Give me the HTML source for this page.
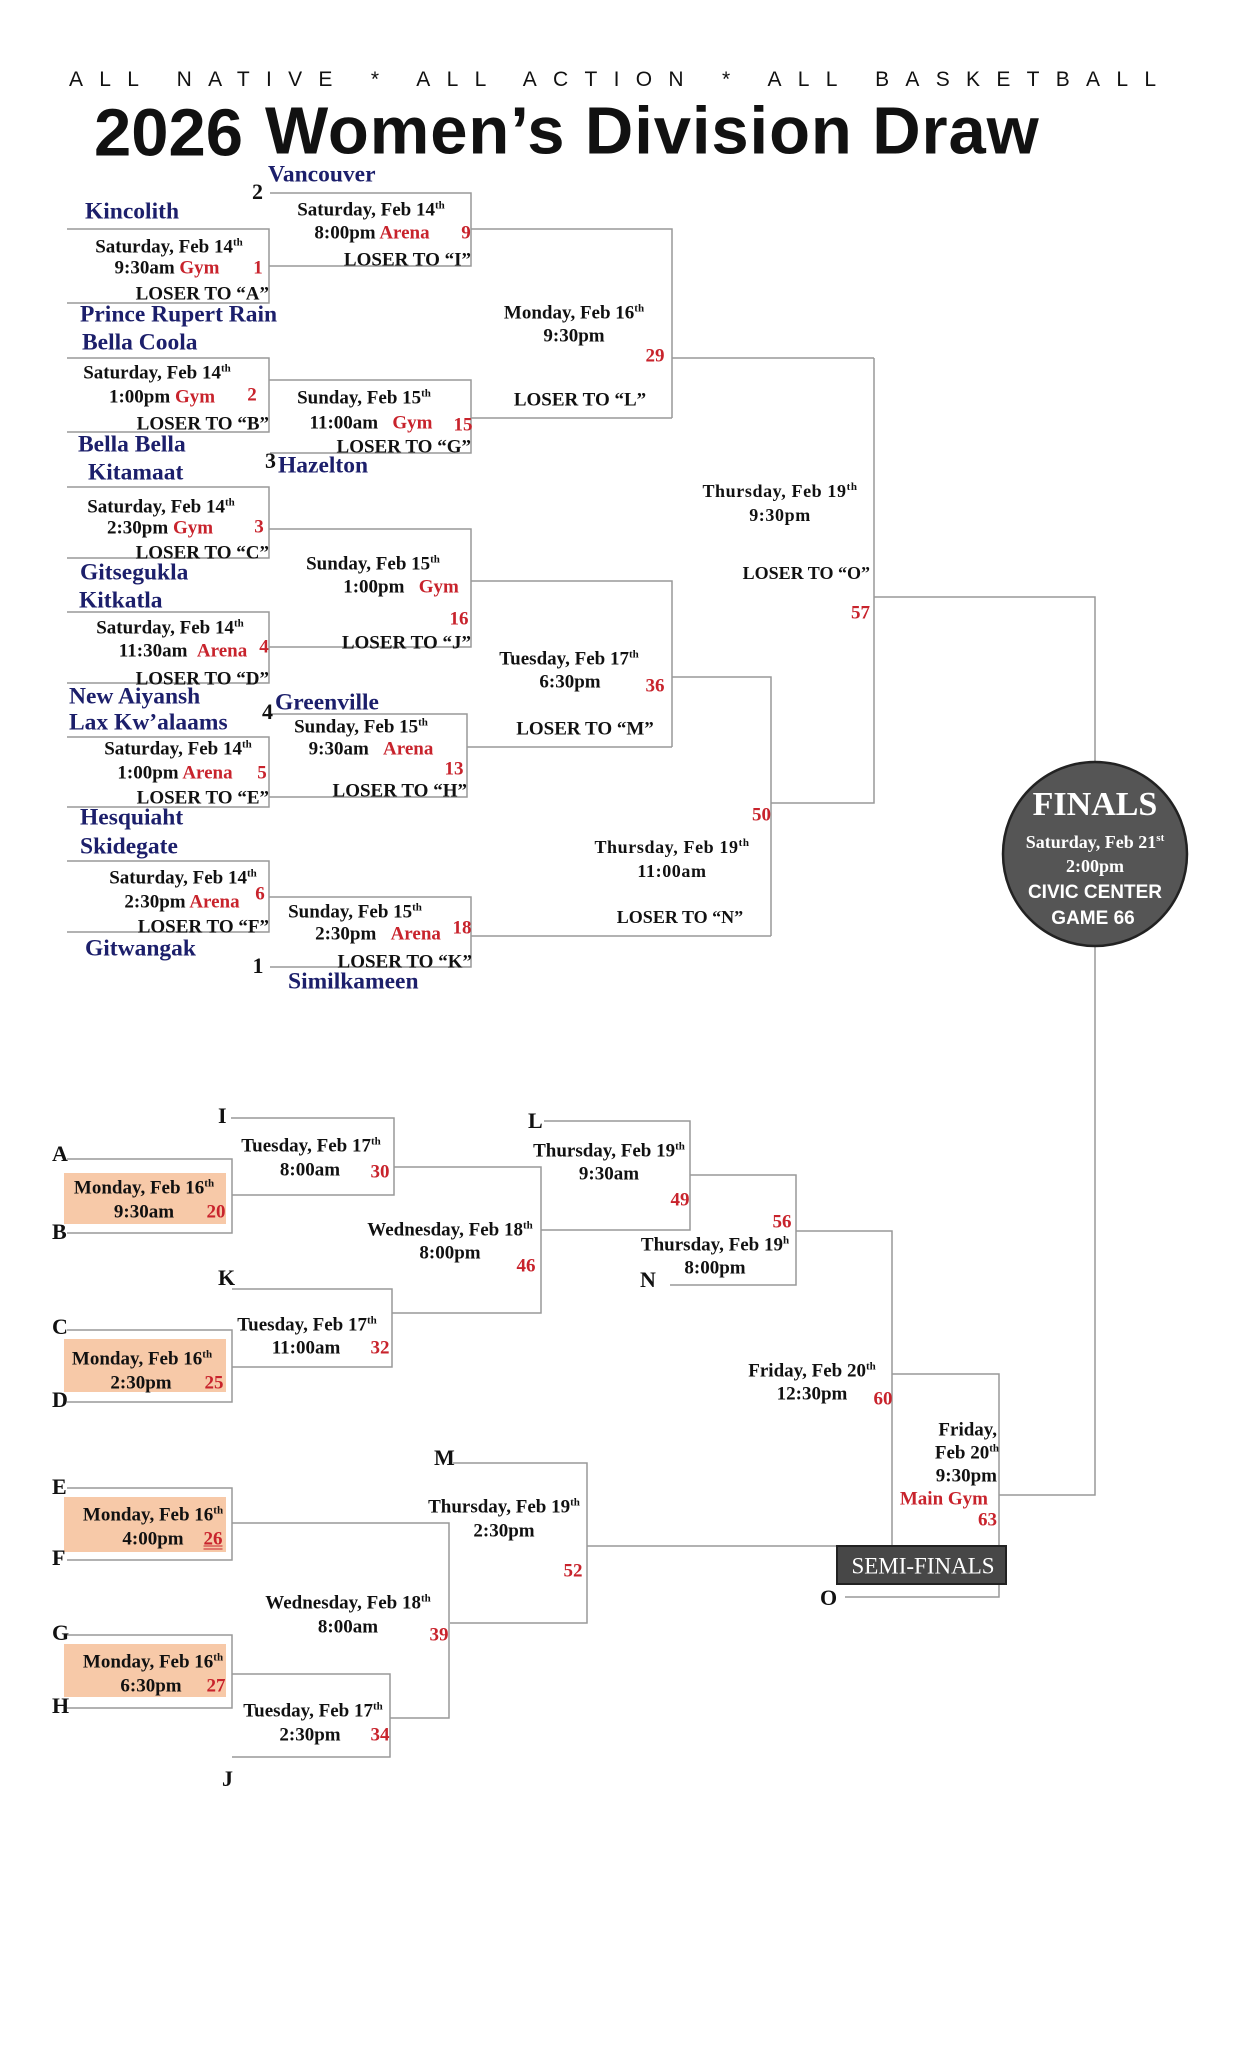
<!DOCTYPE html>
<html><head><meta charset="utf-8">
<style>
html,body{margin:0;padding:0;background:#fff}
#p{position:relative;width:1243px;height:2048px;overflow:hidden;background:#fff}
.t{position:absolute;white-space:nowrap;font:bold 19px "Liberation Serif",serif;line-height:1;transform:translate(-50%,-50%);color:#111}
.l{transform:translate(0,-50%)}
.r{transform:translate(-100%,-50%)}
.red{color:#c8232c}
.tm{color:#1c1f6b;font-size:23.5px}
.lb{font-size:22px}
sup{font-size:11px;vertical-align:7px;line-height:0}
.sh{position:absolute;background:#f7c9a8}
svg{position:absolute;left:0;top:0}
</style></head><body><div id="p">
<div class="sh" style="left:64px;top:1173px;width:162px;height:51px"></div>
<div class="sh" style="left:64px;top:1339px;width:162px;height:53px"></div>
<div class="sh" style="left:64px;top:1497px;width:162px;height:55px"></div>
<div class="sh" style="left:64px;top:1644px;width:162px;height:53px"></div>
<svg width="1243" height="2048" fill="none" stroke="#999" stroke-width="1.5">
<path d="M67,229H269V303H67M269,266H471V193H270M471,229H672V418M471,418H672M672,358H874"/>
<path d="M67,358H269V432H67M269,380H471V453H270"/>
<path d="M67,487H269V558H67M269,529H471V647H269M471,581H672V747M467,747H672M672,677H771V936M471,936H771M771,803H874V358M874,597H1095V762"/>
<path d="M67,612H269V683H67M269,714H467V797H269M67,737H269V807H67"/>
<path d="M67,861H269V932H67M269,897H471V967H270"/>
<path d="M1095,946V1495H999"/>
<path d="M231,1118H394V1195H232M67,1159H232V1233H67M394,1167H541V1313H392M541,1230H690V1121H544M232,1289H392V1367H232M67,1330H232V1402H67"/>
<path d="M690,1175H796V1285H670M796,1231H892V1546M892,1374H999V1597H845"/>
<path d="M453,1463H587V1623H450M587,1546H837M67,1488H232V1560H67M232,1523H449V1718H390M67,1635H232V1708H67M232,1674H390V1757H232"/>
<ellipse cx="1095" cy="854" rx="92" ry="92" fill="#555" stroke="#222" stroke-width="2.5"/>
<rect x="837" y="1546" width="169" height="38" fill="#474747" stroke="#222" stroke-width="2"/>
</svg>

<div class="t l" style="left:69px;top:80px;font:21px 'Liberation Sans',sans-serif;letter-spacing:16.3px">ALL NATIVE * ALL ACTION * ALL BASKETBALL</div>
<div class="t l" style="left:94px;top:133px;font:bold 67px 'Liberation Sans',sans-serif">2026</div>
<div class="t l" style="left:265px;top:131px;font:bold 67px 'Liberation Sans',sans-serif;letter-spacing:0.9px">Women’s Division Draw</div>

<div class="t l tm" style="left:268px;top:175px">Vancouver</div>
<div class="t l lb" style="left:252px;top:192px">2</div>
<div class="t l tm" style="left:85px;top:212px">Kincolith</div>
<div class="t" style="left:169px;top:247px">Saturday, Feb 14<sup>th</sup></div>
<div class="t" style="left:167px;top:268px">9:30am <span class="red">Gym</span></div>
<div class="t red" style="left:258px;top:268px">1</div>
<div class="t r" style="left:269px;top:294px">LOSER TO “A”</div>
<div class="t" style="left:371px;top:210px">Saturday, Feb 14<sup>th</sup></div>
<div class="t" style="left:372px;top:233px">8:00pm <span class="red">Arena</span></div>
<div class="t red" style="left:466px;top:233px">9</div>
<div class="t r" style="left:471px;top:260px">LOSER TO “I”</div>

<div class="t l tm" style="left:80px;top:315px">Prince Rupert Rain</div>
<div class="t l tm" style="left:82px;top:343px">Bella Coola</div>
<div class="t" style="left:157px;top:373px">Saturday, Feb 14<sup>th</sup></div>
<div class="t" style="left:162px;top:397px">1:00pm <span class="red">Gym</span></div>
<div class="t red" style="left:252px;top:395px">2</div>
<div class="t r" style="left:269px;top:424px">LOSER TO “B”</div>
<div class="t" style="left:364px;top:398px">Sunday, Feb 15<sup>th</sup></div>
<div class="t" style="left:371px;top:423px">11:00am &nbsp;&nbsp;<span class="red">Gym</span></div>
<div class="t red" style="left:463px;top:425px">15</div>
<div class="t r" style="left:471px;top:447px">LOSER TO “G”</div>
<div class="t" style="left:574px;top:313px">Monday, Feb 16<sup>th</sup></div>
<div class="t" style="left:574px;top:336px">9:30pm</div>
<div class="t red" style="left:655px;top:356px">29</div>
<div class="t" style="left:580px;top:400px">LOSER TO “L”</div>

<div class="t l tm" style="left:78px;top:445px">Bella Bella</div>
<div class="t l lb" style="left:265px;top:461px">3</div>
<div class="t l tm" style="left:278px;top:466px">Hazelton</div>
<div class="t l tm" style="left:88px;top:473px">Kitamaat</div>
<div class="t" style="left:161px;top:507px">Saturday, Feb 14<sup>th</sup></div>
<div class="t" style="left:160px;top:528px">2:30pm <span class="red">Gym</span></div>
<div class="t red" style="left:259px;top:527px">3</div>
<div class="t r" style="left:269px;top:553px">LOSER TO “C”</div>
<div class="t l tm" style="left:80px;top:573px">Gitsegukla</div>
<div class="t l tm" style="left:79px;top:601px">Kitkatla</div>
<div class="t" style="left:373px;top:564px">Sunday, Feb 15<sup>th</sup></div>
<div class="t" style="left:401px;top:587px">1:00pm &nbsp;&nbsp;<span class="red">Gym</span></div>
<div class="t red" style="left:459px;top:619px">16</div>
<div class="t r" style="left:471px;top:643px">LOSER TO “J”</div>
<div class="t" style="left:170px;top:628px">Saturday, Feb 14<sup>th</sup></div>
<div class="t" style="left:183px;top:651px">11:30am &nbsp;<span class="red">Arena</span></div>
<div class="t red" style="left:264px;top:647px">4</div>
<div class="t r" style="left:269px;top:679px">LOSER TO “D”</div>
<div class="t" style="left:569px;top:659px">Tuesday, Feb 17<sup>th</sup></div>
<div class="t" style="left:570px;top:682px">6:30pm</div>
<div class="t red" style="left:655px;top:686px">36</div>
<div class="t" style="left:585px;top:729px">LOSER TO “M”</div>

<div class="t l tm" style="left:69px;top:697px">New Aiyansh</div>
<div class="t l tm" style="left:69px;top:723px">Lax Kw’alaams</div>
<div class="t l lb" style="left:262px;top:712px">4</div>
<div class="t l tm" style="left:275px;top:703px">Greenville</div>
<div class="t" style="left:361px;top:727px">Sunday, Feb 15<sup>th</sup></div>
<div class="t" style="left:371px;top:749px">9:30am &nbsp;&nbsp;<span class="red">Arena</span></div>
<div class="t red" style="left:454px;top:769px">13</div>
<div class="t r" style="left:467px;top:791px">LOSER TO “H”</div>
<div class="t" style="left:178px;top:749px">Saturday, Feb 14<sup>th</sup></div>
<div class="t" style="left:175px;top:773px">1:00pm <span class="red">Arena</span></div>
<div class="t red" style="left:262px;top:773px">5</div>
<div class="t r" style="left:269px;top:798px">LOSER TO “E”</div>

<div class="t l tm" style="left:80px;top:818px">Hesquiaht</div>
<div class="t l tm" style="left:80px;top:847px">Skidegate</div>
<div class="t" style="left:183px;top:878px">Saturday, Feb 14<sup>th</sup></div>
<div class="t" style="left:182px;top:902px">2:30pm <span class="red">Arena</span></div>
<div class="t red" style="left:260px;top:894px">6</div>
<div class="t r" style="left:269px;top:927px">LOSER TO “F”</div>
<div class="t" style="left:355px;top:912px">Sunday, Feb 15<sup>th</sup></div>
<div class="t" style="left:378px;top:934px">2:30pm &nbsp;&nbsp;<span class="red">Arena</span></div>
<div class="t red" style="left:462px;top:928px">18</div>
<div class="t r" style="left:472px;top:962px">LOSER TO “K”</div>
<div class="t l tm" style="left:85px;top:949px">Gitwangak</div>
<div class="t lb" style="left:258px;top:966px">1</div>
<div class="t l tm" style="left:288px;top:982px">Similkameen</div>

<div class="t" style="left:780px;top:491px;font-size:18px;letter-spacing:.6px">Thursday, Feb 19<sup>th</sup></div>
<div class="t" style="left:780px;top:515px;font-size:18px;letter-spacing:.6px">9:30pm</div>
<div class="t r" style="left:870px;top:573px;font-size:18px">LOSER TO “O”</div>
<div class="t r red" style="left:870px;top:613px">57</div>
<div class="t r red" style="left:771px;top:815px">50</div>
<div class="t" style="left:672px;top:847px;font-size:18px;letter-spacing:.6px">Thursday, Feb 19<sup>th</sup></div>
<div class="t" style="left:672px;top:871px;font-size:18px;letter-spacing:.6px">11:00am</div>
<div class="t" style="left:680px;top:917px;font-size:18px">LOSER TO “N”</div>

<div class="t" style="left:1095px;top:805px;color:#fff;font-size:34px;font-weight:bold">FINALS</div>
<div class="t" style="left:1095px;top:842px;color:#fff;font-size:18px">Saturday, Feb 21<sup>st</sup></div>
<div class="t" style="left:1095px;top:866px;color:#fff;font-size:18px">2:00pm</div>
<div class="t" style="left:1095px;top:893px;color:#fff;font:bold 19px 'Liberation Sans',sans-serif">CIVIC CENTER</div>
<div class="t" style="left:1093px;top:919px;color:#fff;font:bold 19px 'Liberation Sans',sans-serif">GAME 66</div>

<div class="t l lb" style="left:218px;top:1116px">I</div>
<div class="t l lb" style="left:52px;top:1154px">A</div>
<div class="t l lb" style="left:52px;top:1232px">B</div>
<div class="t l lb" style="left:218px;top:1278px">K</div>
<div class="t l lb" style="left:52px;top:1327px">C</div>
<div class="t l lb" style="left:52px;top:1400px">D</div>
<div class="t l lb" style="left:528px;top:1121px">L</div>
<div class="t l lb" style="left:640px;top:1280px">N</div>
<div class="t l lb" style="left:434px;top:1458px">M</div>
<div class="t l lb" style="left:52px;top:1487px">E</div>
<div class="t l lb" style="left:52px;top:1558px">F</div>
<div class="t l lb" style="left:52px;top:1633px">G</div>
<div class="t l lb" style="left:52px;top:1706px">H</div>
<div class="t l lb" style="left:222px;top:1779px">J</div>
<div class="t l lb" style="left:820px;top:1598px">O</div>

<div class="t" style="left:144px;top:1188px">Monday, Feb 16<sup>th</sup></div>
<div class="t" style="left:144px;top:1212px">9:30am</div>
<div class="t red" style="left:216px;top:1212px">20</div>
<div class="t" style="left:311px;top:1146px">Tuesday, Feb 17<sup>th</sup></div>
<div class="t" style="left:310px;top:1170px">8:00am</div>
<div class="t red" style="left:380px;top:1172px">30</div>
<div class="t" style="left:450px;top:1230px">Wednesday, Feb 18<sup>th</sup></div>
<div class="t" style="left:450px;top:1253px">8:00pm</div>
<div class="t red" style="left:526px;top:1266px">46</div>
<div class="t" style="left:307px;top:1325px">Tuesday, Feb 17<sup>th</sup></div>
<div class="t" style="left:306px;top:1348px">11:00am</div>
<div class="t red" style="left:380px;top:1348px">32</div>
<div class="t" style="left:142px;top:1359px">Monday, Feb 16<sup>th</sup></div>
<div class="t" style="left:141px;top:1383px">2:30pm</div>
<div class="t red" style="left:214px;top:1383px">25</div>
<div class="t" style="left:609px;top:1151px">Thursday, Feb 19<sup>th</sup></div>
<div class="t" style="left:609px;top:1174px">9:30am</div>
<div class="t red" style="left:680px;top:1200px">49</div>
<div class="t red" style="left:782px;top:1222px">56</div>
<div class="t" style="left:715px;top:1245px">Thursday, Feb 19<sup>h</sup></div>
<div class="t" style="left:715px;top:1268px">8:00pm</div>
<div class="t" style="left:812px;top:1371px">Friday, Feb 20<sup>th</sup></div>
<div class="t" style="left:812px;top:1394px">12:30pm</div>
<div class="t red" style="left:883px;top:1399px">60</div>
<div class="t r" style="left:997px;top:1430px">Friday,</div>
<div class="t r" style="left:999px;top:1453px">Feb 20<sup>th</sup></div>
<div class="t r" style="left:997px;top:1476px">9:30pm</div>
<div class="t r red" style="left:988px;top:1499px">Main Gym</div>
<div class="t r red" style="left:997px;top:1520px">63</div>
<div class="t" style="left:923px;top:1566px;color:#fff;font-size:23px;font-weight:normal">SEMI-FINALS</div>

<div class="t" style="left:504px;top:1507px">Thursday, Feb 19<sup>th</sup></div>
<div class="t" style="left:504px;top:1531px">2:30pm</div>
<div class="t red" style="left:573px;top:1571px">52</div>
<div class="t" style="left:153px;top:1515px">Monday, Feb 16<sup>th</sup></div>
<div class="t" style="left:153px;top:1539px">4:00pm</div>
<div class="t red" style="left:213px;top:1539px;text-decoration:underline double">26</div>
<div class="t" style="left:348px;top:1603px">Wednesday, Feb 18<sup>th</sup></div>
<div class="t" style="left:348px;top:1627px">8:00am</div>
<div class="t red" style="left:439px;top:1635px">39</div>
<div class="t" style="left:153px;top:1662px">Monday, Feb 16<sup>th</sup></div>
<div class="t" style="left:151px;top:1686px">6:30pm</div>
<div class="t red" style="left:216px;top:1686px">27</div>
<div class="t" style="left:313px;top:1711px">Tuesday, Feb 17<sup>th</sup></div>
<div class="t" style="left:310px;top:1735px">2:30pm</div>
<div class="t red" style="left:380px;top:1735px">34</div>
</div></body></html>
